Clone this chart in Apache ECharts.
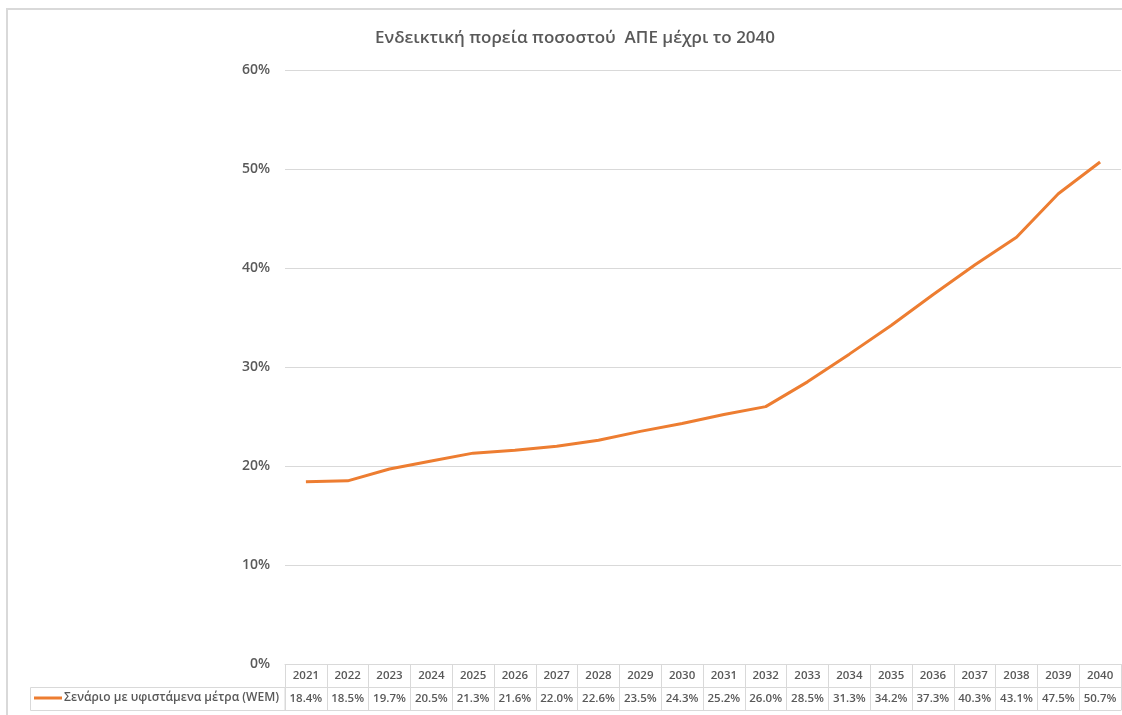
<!DOCTYPE html>
<html>
<head>
<meta charset="utf-8">
<script src="https://cdn.jsdelivr.net/npm/echarts@6/dist/echarts.min.js"></script>
<style>html,body{margin:0;padding:0;background:#fff}#c{width:1122px;height:715px}</style>
</head>
<body>
<div id="c"></div>
<script>
const titleText = 'Ενδεικτική πορεία ποσοστού  ΑΠΕ μέχρι το 2040';
const seriesName = 'Σενάριο με υφιστάμενα μέτρα (WEM)';
const years = ['2021','2022','2023','2024','2025','2026','2027','2028','2029','2030','2031','2032','2033','2034','2035','2036','2037','2038','2039','2040'];
const values = [18.4,18.5,19.7,20.5,21.3,21.6,22.0,22.6,23.5,24.3,25.2,26.0,28.5,31.3,34.2,37.3,40.3,43.1,47.5,50.7];
const yTicks = [0,10,20,30,40,50,60];

const FONT = 'Open Sans';
const GRAY = '#595959';
const LINE = '#d9d9d9';

const chart = echarts.init(document.getElementById('c'));
chart.setOption({
  animation: false,
  textStyle: {fontFamily: FONT},
  title: {
    text: titleText, left: 370, top: 25,
    textStyle: {fontFamily: FONT, fontSize: 17, fontWeight: 600, color: GRAY}
  },
  grid: {left: 285, right: 1, top: 70, bottom: 51, containLabel: false},
  legend: {
    data: [seriesName], left: 34, top: 692, padding: 0,
    icon: 'rect', itemWidth: 28, itemHeight: 3, itemGap: 2,
    textStyle: {fontFamily: FONT, fontSize: 12, fontWeight: 600, color: GRAY, padding: [1,0,0,-3]}
  },
  graphic: [
    {type: 'rect', shape: {x: 7, y: 9, width: 1300, height: 900}, style: {fill: 'none', stroke: LINE, lineWidth: 2}, silent: true, z: -1},
    {type: 'rect', shape: {x: 30.5, y: 687.5, width: 254.5, height: 23}, style: {fill: 'none', stroke: LINE, lineWidth: 1}, silent: true}
  ],
  xAxis: [
    {
      type: 'category', data: years, boundaryGap: true, position: 'bottom',
      axisLine: {show: true, lineStyle: {color: LINE, width: 1}},
      axisTick: {show: true, interval: 0, length: 46, lineStyle: {color: LINE}},
      axisLabel: {interval: 0, margin: 6, fontSize: 11.5, color: GRAY, fontFamily: FONT, fontWeight: 600}
    },
    {
      type: 'category', data: years, boundaryGap: true, position: 'bottom', offset: 23,
      axisLine: {show: true, lineStyle: {color: LINE, width: 1}},
      axisTick: {show: false},
      axisLabel: {interval: 0, margin: 6, fontSize: 11.5, color: GRAY, fontFamily: FONT, fontWeight: 600,
        formatter: (v, i) => values[i].toFixed(1) + '%'}
    },
    {
      type: 'category', data: years, boundaryGap: true, position: 'bottom', offset: 46,
      axisLine: {show: true, lineStyle: {color: LINE, width: 1}},
      axisTick: {show: false}, axisLabel: {show: false}
    }
  ],
  yAxis: {
    type: 'value', min: yTicks[0], max: yTicks[yTicks.length-1], interval: 10,
    axisLine: {show: false}, axisTick: {show: false},
    splitLine: {lineStyle: {color: LINE, width: 1}},
    axisLabel: {formatter: '{value}%', fontSize: 14, color: GRAY, margin: 15, fontFamily: FONT, fontWeight: 600}
  },
  series: [{
    name: seriesName, type: 'line', data: values, xAxisIndex: 0,
    showSymbol: false, symbol: 'none',
    lineStyle: {color: '#ED7D31', width: 3}, itemStyle: {color: '#ED7D31'}
  }]
});
</script>
</body>
</html>
